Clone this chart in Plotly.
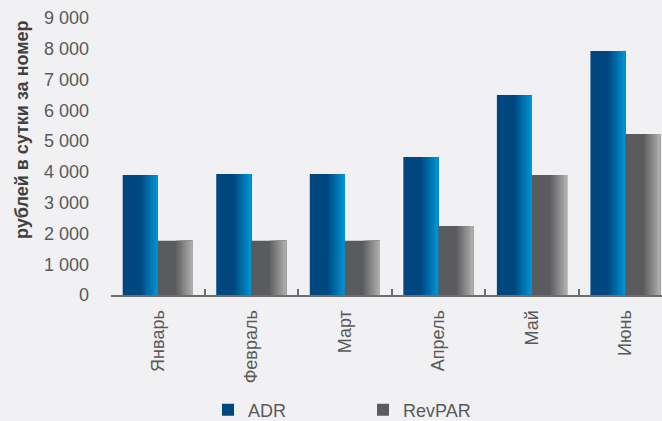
import plotly.graph_objects as go

months = ["Январь", "Февраль", "Март", "Апрель", "Май", "Июнь"]
adr = [3900, 3930, 3930, 4480, 6500, 7930]
revpar = [1760, 1760, 1760, 2240, 3900, 5230]
ytick_vals = [0, 1000, 2000, 3000, 4000, 5000, 6000, 7000, 8000, 9000]

W, H = 662, 421
L, R, T, B = 111, 0, 18, 126
pw, ph = W - L - R, H - T - B

BW = 0.375  # bar width in category units
fig = go.Figure()


def gradient_bars(name, vals, start, c0, c1, dark_frac=0.52, steps=10):
    # solid dark part + horizontal ramp to the lighter colour
    slices = [(0.0, c0)]
    for i in range(1, steps + 1):
        t = i / steps
        col = tuple(round(c0[k] + (c1[k] - c0[k]) * t) for k in range(3))
        slices.append((dark_frac + (1 - dark_frac) * (i - 1) / steps, col))
    for j, (f, col) in enumerate(slices):
        fig.add_trace(go.Bar(
            name=name, x=months, y=vals,
            offset=start + f * BW, width=BW * (1 - f),
            marker=dict(color="rgb(%d,%d,%d)" % col, line=dict(width=0)),
            legendgroup=name, showlegend=(j == 0), hoverinfo="skip" if j else None,
        ))


gradient_bars("ADR", adr, -BW, (0, 71, 127), (0, 146, 210))
gradient_bars("RevPAR", revpar, 0.0, (90, 91, 93), (172, 172, 172))

font = "Liberation Sans, Arial, sans-serif"
fig.update_layout(
    width=W, height=H,
    margin=dict(l=L, r=R, t=T, b=B, pad=0, autoexpand=False),
    paper_bgcolor="#f1f1f3", plot_bgcolor="rgba(0,0,0,0)",
    barmode="overlay",
    separators=", ",
    font=dict(family=font, size=18, color="#595959"),
    showlegend=True,
    legend=dict(orientation="h", x=(208 - L) / pw, xanchor="left", y=(H - B - 410) / ph,
                yanchor="middle", entrywidth=110, entrywidthmode="pixels",
                font=dict(family=font, size=18, color="#595959"), bgcolor="rgba(0,0,0,0)",
                itemwidth=30),
    xaxis=dict(range=[-0.5, 5.39], showgrid=False, showline=True, linecolor="#6e6e6e", linewidth=2,
               ticks="inside", tickson="boundaries", ticklen=6, tickwidth=2, tickcolor="#6e6e6e",
               tickangle=-90, ticklabelstandoff=6,
               tickfont=dict(family=font, size=18, color="#595959"), fixedrange=True),
    yaxis=dict(range=[0, 9000], tickvals=ytick_vals, tickformat=",d", showgrid=False,
               showline=False, zeroline=False, ticks="", ticklabelstandoff=21,
               tickfont=dict(family=font, size=18, color="#595959")),
    annotations=[dict(text="<b>рублей в сутки за номер</b>", textangle=-90, xref="paper", yref="paper",
                      x=(22 - L) / pw, y=(H - B - 130) / ph, xanchor="center", yanchor="middle",
                      showarrow=False, font=dict(family=font, size=18, color="#404040"))],
)

fig.write_html("out.html")
